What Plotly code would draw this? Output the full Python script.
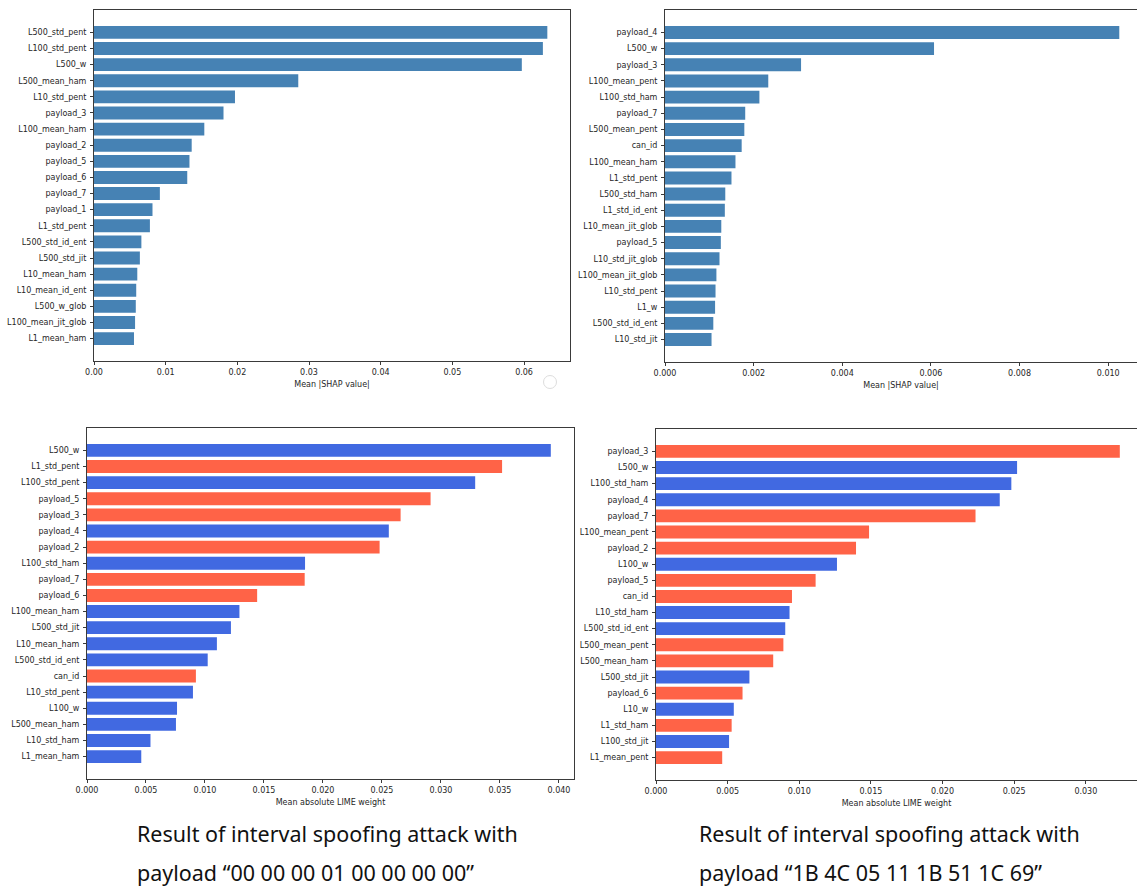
import plotly.graph_objects as go

# ---- SHAP, payload "00 00 00 01 00 00 00 00" ----
shap1_features = ["L500_std_pent", "L100_std_pent", "L500_w", "L500_mean_ham", "L10_std_pent",
                  "payload_3", "L100_mean_ham", "payload_2", "payload_5", "payload_6",
                  "payload_7", "payload_1", "L1_std_pent", "L500_std_id_ent", "L500_std_jit",
                  "L10_mean_ham", "L10_mean_id_ent", "L500_w_glob", "L100_mean_jit_glob", "L1_mean_ham"]
shap1_values = [0.06325, 0.06263, 0.05969, 0.02850, 0.01967,
                0.01807, 0.01539, 0.01363, 0.01332, 0.01301,
                0.00919, 0.00816, 0.00780, 0.00661, 0.00640,
                0.00604, 0.00589, 0.00583, 0.00573, 0.00558]

# ---- SHAP, payload "1B 4C 05 11 1B 51 1C 69" ----
shap2_features = ["payload_4", "L500_w", "payload_3", "L100_mean_pent", "L100_std_ham",
                  "payload_7", "L500_mean_pent", "can_id", "L100_mean_ham", "L1_std_pent",
                  "L500_std_ham", "L1_std_id_ent", "L10_mean_jit_glob", "payload_5", "L10_std_jit_glob",
                  "L100_mean_jit_glob", "L10_std_pent", "L1_w", "L500_std_id_ent", "L10_std_jit"]
shap2_values = [0.01025, 0.00607, 0.00307, 0.00233, 0.00213,
                0.00181, 0.00179, 0.00173, 0.00159, 0.00150,
                0.00136, 0.00135, 0.00127, 0.00126, 0.00123,
                0.00116, 0.00114, 0.00113, 0.00109, 0.00105]

# ---- LIME, payload "00 00 00 01 00 00 00 00" ----
lime1_features = ["L500_w", "L1_std_pent", "L100_std_pent", "payload_5", "payload_3",
                  "payload_4", "payload_2", "L100_std_ham", "payload_7", "payload_6",
                  "L100_mean_ham", "L500_std_jit", "L10_mean_ham", "L500_std_id_ent", "can_id",
                  "L10_std_pent", "L100_w", "L500_mean_ham", "L10_std_ham", "L1_mean_ham"]
lime1_values = [0.03931, 0.03518, 0.03290, 0.02912, 0.02658,
                0.02558, 0.02480, 0.01848, 0.01845, 0.01442,
                0.01292, 0.01220, 0.01101, 0.01023, 0.00923,
                0.00898, 0.00763, 0.00754, 0.00538, 0.00460]
lime1_sign = ["neg", "pos", "neg", "pos", "pos",
              "neg", "pos", "neg", "pos", "pos",
              "neg", "neg", "neg", "neg", "pos",
              "neg", "neg", "neg", "neg", "neg"]

# ---- LIME, payload "1B 4C 05 11 1B 51 1C 69" ----
lime2_features = ["payload_3", "L500_w", "L100_std_ham", "payload_4", "payload_7",
                  "L100_mean_pent", "payload_2", "L100_w", "payload_5", "can_id",
                  "L10_std_ham", "L500_std_id_ent", "L500_mean_pent", "L500_mean_ham", "L500_std_jit",
                  "payload_6", "L10_w", "L1_std_ham", "L100_std_jit", "L1_mean_pent"]
lime2_values = [0.03237, 0.02520, 0.02480, 0.02399, 0.02230,
                0.01487, 0.01396, 0.01263, 0.01114, 0.00949,
                0.00932, 0.00902, 0.00889, 0.00818, 0.00652,
                0.00604, 0.00543, 0.00528, 0.00510, 0.00462]
lime2_sign = ["pos", "neg", "neg", "neg", "pos",
              "pos", "pos", "neg", "pos", "pos",
              "neg", "neg", "pos", "pos", "neg",
              "pos", "neg", "pos", "neg", "pos"]

caption_lines = [
    ["Result of interval spoofing attack with", "payload \u201c00 00 00 01 00 00 00 00\u201d"],
    ["Result of interval spoofing attack with", "payload \u201c1B 4C 05 11 1B 51 1C 69\u201d"],
]

SHAP_COLOR = "#4682B4"
SIGN_COLORS = {"pos": "#FF6347", "neg": "#4169E1"}

W, H = 1137, 889
TEXT = "#262626"
FRAME = "#3a3a3a"
FONT = "DejaVu Sans"
TICK_SIZE = 8

# panel boxes in pixels (left, top, right, bottom) and the unclipped width
panels = [
    dict(x0=94, y0=10, x1=570, y1=361, full=476, vals=shap1_values, feats=shap1_features,
         colors=[SHAP_COLOR] * 20, title="Mean |SHAP value|", dtick=0.01, fmt=".2f"),
    dict(x0=665, y0=10, x1=W, y1=362, full=477, vals=shap2_values, feats=shap2_features,
         colors=[SHAP_COLOR] * 20, title="Mean |SHAP value|", dtick=0.002, fmt=".3f"),
    dict(x0=87, y0=428, x1=574, y1=779, full=487, vals=lime1_values, feats=lime1_features,
         colors=[SIGN_COLORS[s] for s in lime1_sign], title="Mean absolute LIME weight",
         dtick=0.005, fmt=".3f"),
    dict(x0=656, y0=429, x1=W, y1=780, full=487, vals=lime2_values, feats=lime2_features,
         colors=[SIGN_COLORS[s] for s in lime2_sign], title="Mean absolute LIME weight",
         dtick=0.005, fmt=".3f"),
]

fig = go.Figure()
layout = {}
for i, p in enumerate(panels, start=1):
    sfx = "" if i == 1 else str(i)
    fig.add_trace(go.Bar(
        x=p["vals"], y=p["feats"], orientation="h",
        marker=dict(color=p["colors"], line=dict(width=0)),
        xaxis="x" + sfx, yaxis="y" + sfx, showlegend=False,
        hovertemplate="%{y}: %{x:.4f}<extra></extra>",
    ))
    n = len(p["vals"])
    xmax_full = max(p["vals"]) * 1.05
    visible = p["x1"] - p["x0"]
    xmax = xmax_full * visible / p["full"]
    clipped = p["x1"] >= W
    layout["xaxis" + sfx] = dict(
        domain=[p["x0"] / W, p["x1"] / W], anchor="y" + sfx, automargin=False,
        range=[0, xmax], dtick=p["dtick"], tick0=0, tickformat=p["fmt"],
        showgrid=False, zeroline=False, showline=True, linecolor=FRAME, linewidth=1,
        mirror=True, ticks="outside", ticklen=3, tickcolor=FRAME, tickwidth=1,
        tickfont=dict(family=FONT, size=TICK_SIZE, color=TEXT),
        title=dict(text=p["title"], font=dict(family=FONT, size=TICK_SIZE, color=TEXT), standoff=5),
    )
    layout["yaxis" + sfx] = dict(
        domain=[1 - p["y1"] / H, 1 - p["y0"] / H], anchor="x" + sfx, automargin=False,
        type="category", categoryorder="array", categoryarray=p["feats"],
        range=[n - 1 + 0.4 + 0.99, -0.4 - 0.99],
        showgrid=False, zeroline=False, showline=True, linecolor=FRAME, linewidth=1,
        mirror=not clipped, ticks="outside", ticklen=3, tickcolor=FRAME, tickwidth=1,
        tickfont=dict(family=FONT, size=TICK_SIZE, color=TEXT), ticklabelstandoff=2,
    )

fig.update_layout(
    width=W, height=H, autosize=False,
    margin=dict(l=0, r=0, t=0, b=0, pad=0),
    paper_bgcolor="white", plot_bgcolor="white",
    bargap=0.2, **layout,
)

# two-line captions below the LIME panels
for x_left, lines in zip([135, 697], caption_lines):
    for y_mid, line in zip([833, 872], lines):
        fig.add_annotation(
            x=x_left / W, y=1 - y_mid / H, xref="paper", yref="paper",
            text=line, showarrow=False, xanchor="left", yanchor="middle",
            font=dict(family="Noto Sans", size=21.5, color="#111111"),
        )

# faint circle left under the first panel
fig.add_shape(type="circle", xref="paper", yref="paper",
              x0=543.5 / W, x1=556.5 / W, y0=1 - 388.5 / H, y1=1 - 375.5 / H,
              line=dict(color="#dddddd", width=1))

fig.write_html("out.html")
